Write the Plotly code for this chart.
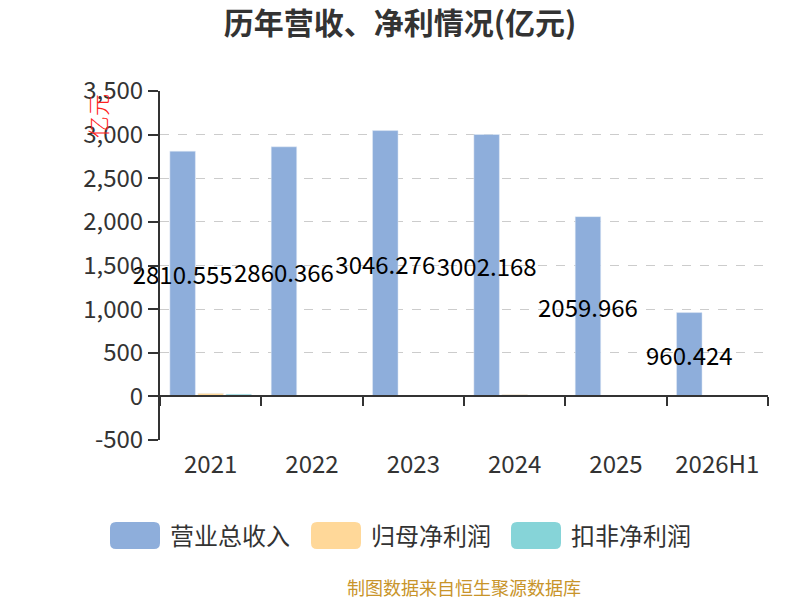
import plotly.graph_objects as go

# datos
years = ['2021', '2022', '2023', '2024', '2025', '2026H1']
revenue = [2810.555, 2860.366, 3046.276, 3002.168, 2059.966, 960.424]
net_profit = [35, 10, 10, 22, 10, 4]
net_profit_deducted = [26, 8, 8, 7, 2, 1]
series_names = ['营业总收入', '归母净利润', '扣非净利润']
y_tick_vals = [-500, 0, 500, 1000, 1500, 2000, 2500, 3000, 3500]
y_tick_text = ['-500', '0', '500', '1,000', '1,500', '2,000', '2,500', '3,000', '3,500']
colors = ['#8eaedb', '#ffd899', '#86d4d8']

W, H = 800, 600
L, R, T, B = 160, 32, 91, 160
FONT = 'Noto Sans CJK SC'


def px(x):
    return (x - L) / (W - L - R)


def py(y):
    return (H - B - y) / (H - T - B)


def rounded_rect(x0, y0, x1, y1, r):
    # rectangulo redondeado en coordenadas paper a partir de pixeles
    rx = r / (W - L - R)
    ry = r / (H - T - B)
    a, b, c, d = px(x0), py(y1), px(x1), py(y0)
    return (f'M {a + rx},{b} L {c - rx},{b} Q {c},{b} {c},{b + ry} '
            f'L {c},{d - ry} Q {c},{d} {c - rx},{d} L {a + rx},{d} '
            f'Q {a},{d} {a},{d - ry} L {a},{b + ry} Q {a},{b} {a + rx},{b} Z')


fig = go.Figure()

fig.add_trace(go.Bar(
    x=years, y=revenue, name=series_names[0],
    marker=dict(color=colors[0]),
    text=[f'{v:.3f}' for v in revenue],
    textposition='inside', insidetextanchor='middle', textangle=0,
    textfont=dict(size=24, color='#000000', family=FONT),
    constraintext='none', cliponaxis=False,
))
fig.add_trace(go.Bar(
    x=years, y=net_profit, name=series_names[1],
    marker=dict(color=colors[1]),
))
fig.add_trace(go.Bar(
    x=years, y=net_profit_deducted, name=series_names[2],
    marker=dict(color=colors[2]),
))

# leyenda dibujada a mano (cajas redondeadas)
shapes = []
annotations = []
legend_x = [110, 311, 511]
for i, x0 in enumerate(legend_x):
    shapes.append(dict(type='path', xref='paper', yref='paper',
                       path=rounded_rect(x0, 522, x0 + 50, 549, 6),
                       fillcolor=colors[i], line=dict(width=0), layer='above'))
    annotations.append(dict(
        text=series_names[i], x=px(x0 + 58), y=py(534), xref='paper', yref='paper',
        xanchor='left', yanchor='middle', showarrow=False,
        font=dict(size=24, color='#333333', family=FONT),
    ))

annotations.append(dict(
    text='亿元', x=px(97), y=py(116), xref='paper', yref='paper', textangle=-90,
    xanchor='center', yanchor='middle', showarrow=False,
    font=dict(size=22, color='#ff2020', family=FONT, weight=300),
))
annotations.append(dict(
    text='制图数据来自恒生聚源数据库', x=0.5, y=py(587), xref='paper', yref='paper',
    xanchor='center', yanchor='middle', showarrow=False,
    font=dict(size=18, color='#c8942a', family=FONT),
))

fig.update_layout(
    width=W, height=H,
    margin=dict(l=L, r=R, t=T, b=B, autoexpand=False),
    paper_bgcolor='white', plot_bgcolor='white',
    barmode='group', bargap=0.17, bargroupgap=0.09,
    showlegend=False,
    title=dict(text='<b>历年营收、净利情况(亿元)</b>', x=0.5, xref='container', xanchor='center',
               y=1 - 23 / H, yref='container', yanchor='middle',
               font=dict(size=30, color='#333333', family=FONT)),
    font=dict(family=FONT, color='#333333'),
    uniformtext=dict(minsize=24, mode='show'),
    shapes=shapes, annotations=annotations,
)

fig.update_yaxes(
    range=[-500, 3500], tickvals=y_tick_vals, ticktext=y_tick_text,
    showline=True, linecolor='#333333', linewidth=2,
    ticks='outside', ticklen=10, tickwidth=2, tickcolor='#333333',
    showgrid=True, gridcolor='#cccccc', griddash='dash', gridwidth=1,
    zeroline=False, automargin=False, tickfont=dict(size=24, color='#333333'),
)
fig.update_xaxes(
    anchor='free', position=500 / 4000,
    showline=True, linecolor='#333333', linewidth=2,
    ticks='outside', ticklen=9, tickwidth=2, tickcolor='#333333',
    tickson='boundaries', showgrid=False, zeroline=False, automargin=False,
    ticklabelstandoff=47, tickfont=dict(size=24, color='#333333'),
)

fig.write_html('out.html', config={'displayModeBar': False},
               post_script="document.body.style.margin='0';")
